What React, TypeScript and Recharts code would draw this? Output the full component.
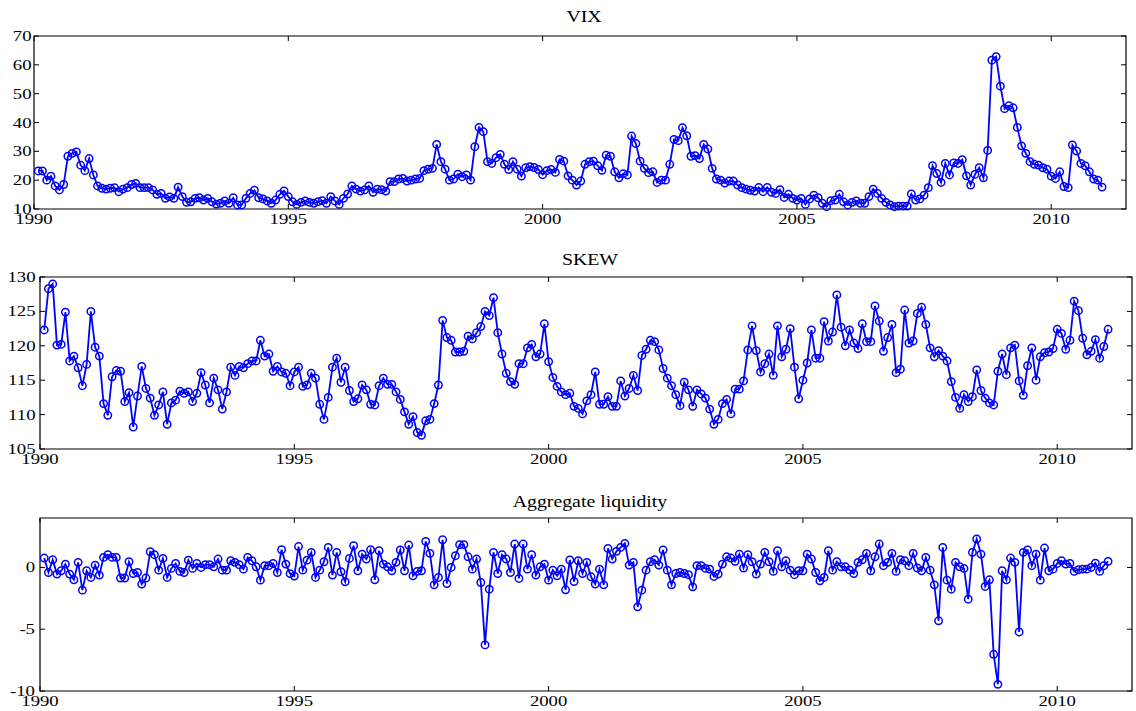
import React from "react";
import { LineChart, Line, XAxis, YAxis, ReferenceArea } from "recharts";

// monthly values, Jan 1990 .. Dec 2010 (one row per year)
const VIX = [
  23.2, 23.2, 20.0, 21.4, 18.0, 16.6, 18.5, 28.3, 29.3, 29.8, 25.2, 23.3,
  27.5, 21.8, 18.0, 17.2, 16.9, 17.2, 17.4, 16.0, 16.9, 17.4, 18.5, 18.9,
  17.4, 17.4, 17.4, 16.6, 15.1, 15.4, 13.7, 14.2, 13.7, 17.6, 14.3, 12.3,
  12.5, 13.7, 13.9, 13.1, 13.7, 12.5, 11.7, 12.0, 12.8, 12.0, 13.9, 11.4,
  11.4, 13.7, 15.4, 16.5, 13.9, 13.5, 12.8, 12.0, 13.1, 15.1, 16.3, 14.3,
  12.5, 11.6, 12.3, 12.8, 12.3, 12.0, 12.5, 12.9, 12.0, 14.3, 12.8, 11.6,
  13.7, 15.2, 18.0, 16.9, 16.2, 16.6, 18.0, 15.8, 16.9, 16.7, 16.2, 19.5,
  19.5, 20.4, 20.6, 19.7, 20.0, 20.4, 20.6, 23.3, 23.8, 24.1, 32.4, 26.4,
  23.8, 20.0, 20.4, 22.1, 21.2, 21.8, 20.0, 31.6, 38.3, 36.8, 26.4, 25.8,
  27.8, 28.9, 25.5, 23.7, 26.4, 23.8, 21.4, 24.3, 24.7, 24.4, 23.7, 21.9,
  23.3, 23.7, 22.7, 27.2, 26.6, 21.5, 20.0, 18.3, 19.7, 25.5, 26.4, 26.6,
  25.0, 23.4, 28.7, 28.3, 22.9, 20.8, 22.2, 21.8, 35.3, 32.7, 26.6, 24.1,
  22.6, 22.9, 19.2, 20.0, 20.0, 25.5, 34.1, 33.7, 38.2, 35.4, 28.3, 28.5,
  27.5, 32.4, 30.8, 24.1, 20.4, 20.0, 19.0, 19.7, 19.7, 18.3, 17.4, 16.9,
  16.5, 16.2, 17.5, 16.0, 17.5, 15.8, 15.4, 16.7, 14.0, 15.1, 13.7, 13.1,
  13.7, 11.6, 13.5, 14.8, 13.9, 12.0, 10.8, 12.9, 13.1, 15.1, 12.5, 11.4,
  12.3, 12.8, 12.0, 12.0, 14.3, 16.9, 15.4, 13.7, 12.3, 11.4, 10.8, 11.0,
  11.0, 11.0, 15.2, 13.1, 13.5, 14.8, 17.4, 25.0, 22.3, 19.2, 25.8, 21.8,
  26.0, 25.8, 27.1, 21.5, 18.3, 22.0, 24.3, 20.8, 30.3, 61.6, 62.8, 52.6,
  44.8, 45.8, 45.1, 38.3, 31.9, 29.3, 26.4, 25.5, 25.2, 24.3, 23.8, 21.4,
  20.6, 22.9, 17.8, 17.4, 32.2, 30.1, 25.8, 25.0, 22.9, 20.4, 20.0, 17.6,
];

const SKEW = [
  122.3, 128.3, 129.0, 120.1, 120.2, 124.9, 117.8, 118.5, 116.8, 114.2, 117.3, 125.0,
  119.8, 118.5, 111.6, 109.9, 115.5, 116.4, 116.3, 111.9, 113.2, 108.2, 112.7, 117.0,
  113.8, 112.4, 109.9, 111.4, 113.3, 108.6, 111.7, 112.1, 113.4, 113.1, 113.3, 111.9,
  113.1, 116.1, 114.3, 111.7, 115.3, 113.6, 110.8, 113.3, 116.9, 115.7, 117.0, 116.8,
  117.4, 117.8, 117.8, 120.8, 118.5, 118.8, 116.3, 117.0, 116.2, 116.0, 114.2, 116.2,
  116.9, 114.1, 114.3, 116.0, 115.3, 111.5, 109.3, 112.5, 116.9, 118.2, 114.7, 116.9,
  113.5, 111.9, 112.3, 114.3, 113.6, 111.5, 111.4, 114.2, 115.3, 114.4, 114.4, 113.3,
  112.2, 110.4, 108.6, 109.7, 107.4, 107.0, 109.1, 109.3, 111.6, 114.3, 123.7, 121.2,
  120.8, 119.1, 119.1, 119.2, 121.4, 121.0, 121.9, 122.8, 125.0, 124.4, 127.0, 121.9,
  118.8, 116.0, 114.8, 114.4, 117.4, 117.4, 119.7, 120.2, 118.4, 118.8, 123.2, 117.7,
  115.4, 114.1, 113.3, 112.9, 113.1, 111.2, 110.9, 110.1, 112.0, 112.9, 116.2, 111.5,
  111.5, 112.6, 111.2, 111.2, 114.9, 112.7, 113.8, 115.7, 113.5, 118.6, 119.5, 120.8,
  120.6, 119.4, 116.7, 115.3, 114.2, 112.9, 111.3, 114.7, 113.6, 111.2, 113.6, 113.0,
  112.4, 110.8, 108.6, 109.3, 111.6, 112.2, 110.1, 113.7, 113.7, 114.9, 119.4, 122.9,
  119.3, 116.2, 117.4, 118.8, 115.7, 122.9, 118.4, 119.5, 122.5, 116.9, 112.3, 115.0,
  117.5, 122.3, 118.2, 118.2, 123.5, 120.7, 122.0, 127.4, 122.7, 120.0, 122.3, 120.4,
  119.6, 123.2, 120.6, 120.6, 125.8, 123.6, 119.2, 121.2, 123.1, 116.1, 116.6, 125.2,
  120.4, 120.7, 124.7, 125.6, 123.1, 119.7, 118.4, 119.3, 118.5, 117.8, 114.8, 112.5,
  110.9, 112.9, 111.9, 112.6, 116.5, 113.5, 112.4, 111.7, 111.4, 116.3, 118.8, 115.8,
  119.7, 120.1, 114.9, 112.8, 117.1, 119.7, 115.0, 118.4, 119.0, 119.1, 119.6, 122.4,
  121.8, 119.5, 120.8, 126.5, 125.1, 121.1, 118.7, 119.2, 120.9, 118.2, 119.9, 122.4,
];

const LIQ = [
  0.76, -0.41, 0.62, -0.54, -0.27, 0.27, -0.54, -1.0, 0.41, -1.84, -0.27, -0.81,
  0.19, -0.62, 0.81, 1.03, 0.81, 0.81, -0.86, -0.86, 0.46, -0.49, -0.41, -1.35,
  -0.86, 1.27, 1.03, -0.22, 0.73, -0.81, -0.08, 0.32, -0.32, -0.41, 0.59, -0.08,
  0.32, 0.0, 0.22, 0.22, 0.05, 0.68, -0.22, -0.22, 0.54, 0.41, 0.22, -0.14,
  0.81, 0.54, 0.05, -1.03, 0.14, 0.14, 0.32, -0.41, 1.43, 0.27, -0.5, -0.7,
  1.69, -0.22, 0.59, 1.22, -0.81, -0.22, 0.46, 1.62, -0.62, 1.22, -0.35, -1.16,
  0.73, 1.76, -0.27, 1.08, 0.68, 1.43, -1.0, 1.35, 0.27, 0.05, -0.27, 0.41,
  1.41, -0.27, 1.81, -0.68, -0.32, -0.27, 2.11, 1.14, -1.41, -0.81, 2.24, -1.3,
  0.0, 0.95, 1.84, 1.84, 0.86, -0.14, 0.68, -1.22, -6.27, -1.76, 1.22, -0.49,
  1.03, 0.68, -0.41, 1.89, -0.89, 1.89, -0.14, 1.03, -0.62, 0.05, 0.27, -1.03,
  -0.22, -0.68, -0.14, -1.81, 0.6, -1.14, 0.54, -0.49, 0.41, -0.76, -1.35, -0.14,
  -1.41, 1.54, 0.68, 1.3, 1.62, 1.95, 0.19, 0.41, -3.19, -1.84, -0.22, 0.46,
  0.62, 0.19, 1.41, -0.22, -1.41, -0.49, -0.41, -0.49, -0.59, -1.57, 0.14, 0.14,
  -0.08, -0.14, -0.73, -0.54, 0.27, 0.86, 0.76, 0.49, 1.08, -0.05, 1.03, 0.46,
  -0.54, 0.27, 1.22, 0.46, -0.32, 1.35, 0.05, 0.54, -0.22, -0.59, -0.27, -0.27,
  1.08, 0.68, -0.41, -1.08, -0.81, 1.35, -0.22, 0.46, 0.05, 0.05, -0.2, -0.5,
  0.41, 0.62, 1.14, -0.27, 0.86, 1.89, 0.14, 0.41, 1.14, -0.32, 0.62, 0.54,
  0.14, 1.14, -0.05, -0.27, 0.81, -0.22, -1.41, -4.32, 1.62, -1.03, -1.76, 0.41,
  0.05, -0.08, -2.57, 1.22, 2.3, 1.08, -1.54, -1.0, -7.03, -9.46, -0.27, -1.0,
  0.76, 0.41, -5.22, 1.22, 1.41, 0.14, 1.08, -1.03, 1.57, -0.27, -0.14, 0.32,
  0.54, 0.27, 0.32, -0.32, -0.19, -0.14, -0.14, 0.0, 0.35, -0.32, 0.14, 0.49,
];

const YEAR_TICKS = [1990, 1995, 2000, 2005, 2010];
const VIX_TICKS = [10, 20, 30, 40, 50, 60, 70];
const SKEW_TICKS = [105, 110, 115, 120, 125, 130];
const LIQ_TICKS = [-10, -5, 0];

// end-of-month time stamps
const dates = VIX.map((_, i) => 1990 + (i + 1) / 12);
const rows = dates.map((t, i) => ({ t, vix: VIX[i], skew: SKEW[i], liq: LIQ[i] }));

const X_END = 2011.47;
const BLUE = "#0000ff";
const FONT = "'Liberation Serif', 'Times New Roman', serif";
const W = 1136;

interface PanelProps {
  top: number;
  height: number;
  left: number;
  right: number;
  plotTop: number;
  plotBottom: number;
  dataKey: string;
  domain: [number, number];
  ticks: number[];
  labelGap: number;
}

const Panel = ({ top, height, left, right, plotTop, plotBottom, dataKey, domain, ticks, labelGap }: PanelProps) => {
  const plotW = right - left;
  const plotH = plotBottom - plotTop;

  const XTick = (p: any) => (
    <g>
      <line x1={p.x} x2={p.x} y1={p.y} y2={p.y - 5} stroke="#000" />
      <line x1={p.x} x2={p.x} y1={p.y - plotH} y2={p.y - plotH + 5} stroke="#000" />
      <text transform={`translate(${p.x},${p.y + 15}) scale(1.25,1)`} textAnchor="middle"
        fontFamily={FONT} fontSize={15} fill="#000">{p.payload.value}</text>
    </g>
  );

  const YTick = (p: any) => (
    <g>
      <line x1={p.x} x2={p.x + 5} y1={p.y} y2={p.y} stroke="#000" />
      <line x1={p.x + plotW - 5} x2={p.x + plotW} y1={p.y} y2={p.y} stroke="#000" />
      <text transform={`translate(${p.x - labelGap},${p.y + 5}) scale(1.25,1)`} textAnchor="end"
        fontFamily={FONT} fontSize={15} fill="#000">{p.payload.value}</text>
    </g>
  );

  return (
    <div style={{ position: "absolute", left: 0, top }}>
      <LineChart width={W} height={height} data={rows}
        margin={{ top: plotTop, right: W - right, bottom: height - plotBottom - 20, left: 0 }}>
        <XAxis dataKey="t" type="number" domain={[1990, X_END]} ticks={YEAR_TICKS} interval={0}
          tick={XTick} tickSize={0} tickMargin={0} tickLine={false} axisLine={false} height={20} />
        <YAxis type="number" domain={domain} ticks={ticks} interval={0} width={left}
          tick={YTick} tickSize={0} tickMargin={0} tickLine={false} axisLine={false} />
        <ReferenceArea x1={1990} x2={X_END} y1={domain[0]} y2={domain[1]}
          fill="none" fillOpacity={0} stroke="#000" strokeWidth={1.2} />
        <Line dataKey={dataKey} type="linear" stroke={BLUE} strokeWidth={1.8}
          dot={{ r: 3.7, stroke: BLUE, strokeWidth: 1.5, fill: "none" }}
          isAnimationActive={false} />
      </LineChart>
    </div>
  );
};

const titleStyle = { fontFamily: FONT, fontSize: 16.5, fill: "#000" };

export default function App() {
  return (
    <div style={{ position: "absolute", left: 0, top: 0, width: W, height: 711, background: "#fff", overflow: "hidden" }}>
      <Panel top={0} height={241} left={34} right={1126} plotTop={36} plotBottom={209}
        dataKey="vix" domain={[10, 70]} ticks={VIX_TICKS} labelGap={2.5} />
      <Panel top={241} height={241} left={40} right={1132} plotTop={36} plotBottom={208}
        dataKey="skew" domain={[105, 130]} ticks={SKEW_TICKS} labelGap={4.5} />
      <Panel top={482} height={229} left={40} right={1132} plotTop={36} plotBottom={209}
        dataKey="liq" domain={[-10, 4]} ticks={LIQ_TICKS} labelGap={5} />
      <svg width={W} height={711} style={{ position: "absolute", left: 0, top: 0, pointerEvents: "none" }}>
        <text transform="translate(584,22) scale(1.2,1)" textAnchor="middle" {...titleStyle}>VIX</text>
        <text transform="translate(590,265) scale(1.2,1)" textAnchor="middle" {...titleStyle}>SKEW</text>
        <text transform="translate(590,506.5) scale(1.2,1)" textAnchor="middle" {...titleStyle}>Aggregate liquidity</text>
      </svg>
    </div>
  );
}
